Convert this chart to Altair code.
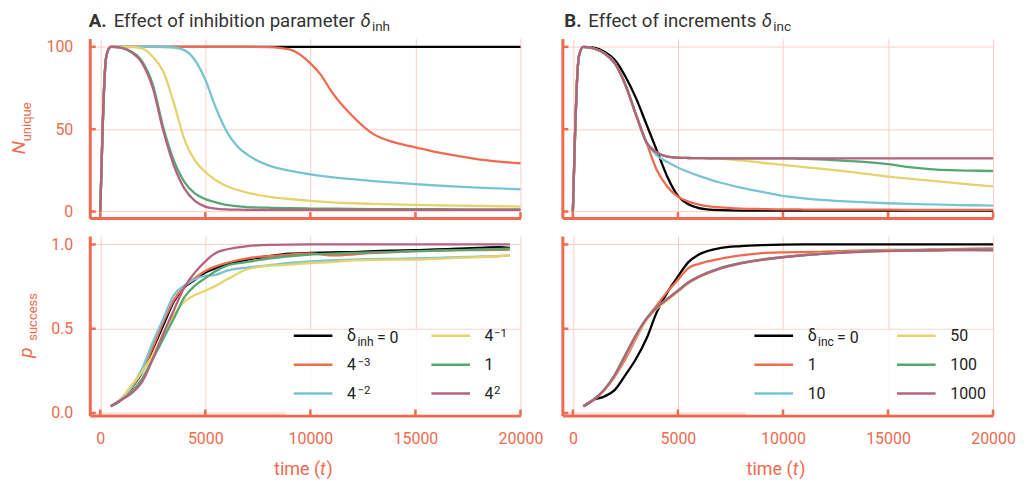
import altair as alt
import pandas as pd

FONT = "Roboto"
AX = "#EE6A50"
GRID = "#F9CEC6"
INK = "#333333"
LEGINK = "#222222"

XTICKS = [0, 5000, 10000, 15000, 20000]
N_TICKS = [0, 50, 100]
P_TICKS = [0.0, 0.5, 1.0]

A_KEYS = ["0", "4⁻³", "4⁻²", "4⁻¹", "1", "4²"]
B_KEYS = ["0", "1", "10", "50", "100", "1000"]
COLORS = ["#000000", "#EE6A50", "#77C5D3", "#E6D36E", "#55A773", "#B5627F"]

T_TOP = [0, 100, 200, 300, 500, 1000, 1500, 2000, 2500, 3000, 3500, 4000, 4500, 5000, 5500, 6000,
         6500, 7000, 8000, 9000, 10000, 10500, 11000, 12000, 13000, 14000, 15000, 16000, 17000,
         18000, 19000, 20000]

N_A_0 = [0, 45, 80, 95, 100, 100, 100, 100, 100, 100, 100, 100, 100, 100, 100, 100, 100, 100, 100, 100,
         100, 100, 100, 100, 100, 100, 100, 100, 100, 100, 100, 100]
N_A_1 = [0, 45, 80, 95, 100, 100, 100, 100, 100, 100, 100, 100, 100, 100, 100, 100, 100, 100, 99.8, 98.4,
         90, 83, 73, 58, 47, 42, 39, 36, 33.8, 31.7, 30.3, 29.3]
N_A_2 = [0, 45, 80, 95, 100, 100, 100, 100, 100, 99.9, 99.5, 98, 92, 80, 63, 49, 40, 34.5, 28, 24.8,
         22.6, 21.7, 20.9, 19.6, 18.5, 17.5, 16.6, 15.8, 15.1, 14.5, 14, 13.5]
N_A_3 = [0, 45, 80, 95, 100, 100, 99.9, 99, 94, 85, 66, 44, 31, 24, 19, 15.5, 13.2, 11.5, 9, 7.6,
         6.5, 6, 5.6, 5, 4.6, 4.3, 4, 3.8, 3.6, 3.4, 3.2, 3]
N_A_4 = [0, 45, 80, 95, 100, 99.5, 97, 91, 77, 51, 31, 18, 11, 7.5, 5.5, 4, 3.2, 2.7, 2.3, 2,
         1.8, 1.7, 1.7, 1.6, 1.5, 1.5, 1.4, 1.4, 1.3, 1.3, 1.3, 1.3]
N_A_5 = [0, 45, 80, 95, 100, 99.3, 96.5, 90, 75, 49, 28, 14, 6.5, 3, 1.8, 1.3, 1.1, 1, 1, 1,
         1, 1, 1, 1, 1, 1, 1, 1, 1, 1, 1, 1]

N_B_0 = [0, 45, 80, 95, 100, 99.5, 97, 92, 82, 69, 53, 37, 21, 9.5, 4.4, 2, 1.2, 0.8, 0.5, 0.5,
         0.5, 0.5, 0.5, 0.5, 0.5, 0.5, 0.5, 0.5, 0.5, 0.5, 0.5, 0.5]
N_B_1 = [0, 45, 80, 95, 100, 99, 96, 90, 77, 59, 42, 25, 15, 9, 6, 4.2, 3.1, 2.5, 1.8, 1.5,
         1.3, 1.3, 1.2, 1.2, 1.1, 1.1, 1.1, 1.0, 1.0, 1.0, 1.0, 1.0]
N_B_2 = [0, 45, 80, 95, 100, 99, 96, 90, 77, 59, 42, 34, 30, 26.7, 24, 21.6, 19.5, 17.6, 14.5, 11.9,
         9.5, 8.7, 8, 6.9, 6.1, 5.5, 5, 4.6, 4.3, 4, 3.8, 3.6]
N_B_3 = [0, 45, 80, 95, 100, 99, 96, 90, 77, 59, 42, 35.8, 33.3, 32.7, 32.5, 32.4, 32.3, 32.2, 31, 29.6,
         28.3, 27.7, 27, 25.7, 24.4, 22.8, 21.2, 19.9, 18.7, 17.5, 16.3, 15.2]
N_B_4 = [0, 45, 80, 95, 100, 99, 96, 90, 77, 59, 42, 35.8, 33.3, 32.7, 32.5, 32.4, 32.3, 32.3, 32.3, 32.3,
         32.3, 32.2, 32, 31.5, 30.8, 30, 28.8, 27, 25.8, 25.1, 24.8, 24.6]
N_B_5 = [0, 45, 80, 95, 100, 99, 96, 90, 77, 59, 42, 35.8, 33.3, 32.7, 32.5, 32.4, 32.3, 32.3, 32.3, 32.3,
         32.3, 32.3, 32.3, 32.3, 32.3, 32.3, 32.3, 32.3, 32.3, 32.3, 32.3, 32.3]

T_BOT_A = [500, 1000, 1500, 2000, 2500, 3000, 3500, 4000, 4500, 5000, 5500, 6000, 7000, 8000, 9000,
           10000, 11000, 12000, 13000, 14000, 15000, 16000, 17000, 18000, 19000, 19500]
T_BOT_B = [500, 1000, 1500, 2000, 2500, 3000, 3500, 4000, 4500, 5000, 5500, 6000, 7000, 8000, 9000,
           10000, 11000, 12000, 13000, 14000, 15000, 16000, 17000, 18000, 19000, 20000]

P_A_0 = [0.04, 0.078, 0.15, 0.245, 0.38, 0.52, 0.66, 0.745, 0.79, 0.833, 0.86, 0.88, 0.91, 0.93, 0.945,
         0.95, 0.953, 0.955, 0.96, 0.963, 0.966, 0.97, 0.975, 0.98, 0.984, 0.98]
P_A_1 = [0.04, 0.08, 0.15, 0.25, 0.39, 0.54, 0.67, 0.75, 0.80, 0.843, 0.87, 0.89, 0.918, 0.93, 0.94,
         0.947, 0.935, 0.94, 0.95, 0.955, 0.96, 0.963, 0.966, 0.967, 0.968, 0.97]
P_A_2 = [0.04, 0.085, 0.157, 0.265, 0.42, 0.56, 0.70, 0.755, 0.794, 0.814, 0.82, 0.843, 0.863, 0.876, 0.89,
         0.90, 0.905, 0.91, 0.913, 0.915, 0.918, 0.92, 0.925, 0.928, 0.932, 0.935]
P_A_3 = [0.04, 0.084, 0.167, 0.245, 0.343, 0.47, 0.58, 0.66, 0.70, 0.725, 0.755, 0.79, 0.853, 0.873, 0.88,
         0.89, 0.895, 0.906, 0.908, 0.91, 0.91, 0.915, 0.92, 0.925, 0.93, 0.935]
P_A_4 = [0.04, 0.078, 0.127, 0.206, 0.32, 0.44, 0.56, 0.686, 0.755, 0.80, 0.843, 0.873, 0.896, 0.916, 0.93,
         0.94, 0.945, 0.95, 0.953, 0.956, 0.96, 0.963, 0.966, 0.97, 0.973, 0.975]
P_A_5 = [0.04, 0.078, 0.118, 0.186, 0.32, 0.47, 0.61, 0.745, 0.833, 0.90, 0.95, 0.97, 0.99, 0.998, 0.999,
         1.0, 1.0, 1.0, 1.0, 1.0, 1.0, 1.0, 1.0, 1.0, 1.0, 1.0]

P_B_0 = [0.04, 0.078, 0.098, 0.137, 0.225, 0.32, 0.44, 0.60, 0.716, 0.81, 0.895, 0.94, 0.978, 0.99, 0.996,
         0.999, 1.0, 1.0, 1.0, 1.0, 1.0, 1.0, 1.0, 1.0, 1.0, 1.0]
P_B_1 = [0.04, 0.08, 0.137, 0.216, 0.32, 0.44, 0.555, 0.64, 0.72, 0.79, 0.86, 0.885, 0.915, 0.935, 0.948,
         0.953, 0.955, 0.957, 0.962, 0.965, 0.968, 0.968, 0.97, 0.972, 0.975, 0.976]
P_B_2 = [0.04, 0.08, 0.138, 0.225, 0.343, 0.46, 0.56, 0.627, 0.676, 0.728, 0.775, 0.81, 0.858, 0.89, 0.912,
         0.925, 0.937, 0.947, 0.953, 0.958, 0.962, 0.963, 0.965, 0.966, 0.967, 0.967]
P_B_3 = [0.04, 0.078, 0.135, 0.22, 0.335, 0.45, 0.55, 0.62, 0.67, 0.72, 0.77, 0.805, 0.855, 0.888, 0.91,
         0.924, 0.938, 0.948, 0.955, 0.96, 0.963, 0.964, 0.966, 0.968, 0.968, 0.968]
P_B_4 = [0.04, 0.08, 0.14, 0.228, 0.345, 0.462, 0.56, 0.628, 0.678, 0.726, 0.776, 0.81, 0.86, 0.89, 0.91,
         0.925, 0.937, 0.946, 0.954, 0.96, 0.962, 0.965, 0.966, 0.968, 0.97, 0.972]
P_B_5 = [0.04, 0.08, 0.138, 0.224, 0.342, 0.458, 0.558, 0.626, 0.676, 0.724, 0.774, 0.808, 0.857, 0.888, 0.909,
         0.924, 0.936, 0.946, 0.952, 0.958, 0.961, 0.963, 0.964, 0.966, 0.967, 0.965]

W, H = 432, 180


def long(times, keys, series):
    rows = []
    for i, (k, vals) in enumerate(zip(keys, series)):
        for t, v in zip(times, vals):
            rows.append({"t": t, "v": v, "s": k, "o": i})
    return pd.DataFrame(rows)


ONE = pd.DataFrame({"dummy": [0]})


def txt(s, x, y, size, color, weight="normal", style="normal", angle=0, align="left"):
    return alt.Chart(ONE).mark_text(
        font=FONT, fontSize=size, color=color, fontWeight=weight, fontStyle=style,
        angle=angle, align=align, baseline="alphabetic",
    ).encode(x=alt.value(x), y=alt.value(y), text=alt.value(s))


def legend_box(x0):
    return alt.Chart(ONE).mark_rect(color="white", opacity=0.8).encode(
        x=alt.value(x0), x2=alt.value(W - 2), y=alt.value(94), y2=alt.value(H - 1))


def panel(df, keys, ydom, yticks, yfmt, xlabels, ylabels, legend, texts):
    xenc = alt.X("t:Q", scale=alt.Scale(domain=[-500, 20000], nice=False, zero=False),
                 axis=alt.Axis(values=XTICKS, grid=True, gridColor=GRID, gridWidth=1,
                               domainColor=AX, domainWidth=3, ticks=False, labels=xlabels,
                               labelColor=AX, labelFont=FONT, labelFontSize=16, labelPadding=15,
                               labelFlush=False, format="d", title=None))
    yenc = alt.Y("v:Q", scale=alt.Scale(domain=ydom, nice=False, zero=False),
                 axis=alt.Axis(values=yticks, grid=True, gridColor=GRID, gridWidth=1,
                               domainColor=AX, domainWidth=3, ticks=False, labels=ylabels,
                               labelColor=AX, labelFont=FONT, labelFontSize=16, labelPadding=17,
                               labelFlush=False, format=yfmt, title=None))
    if legend is not None:
        leg = alt.Legend(orient="none", legendX=legend[0], legendY=legend[1], columns=2,
                         symbolType="stroke", symbolStrokeWidth=2.5, symbolSize=1500,
                         labelFont=FONT, labelFontSize=16, labelColor=LEGINK,
                         labelOffset=13, padding=8, rowPadding=-1.5, columnPadding=legend[3],
                         title=None, labelExpr=legend[4])
        cenc = alt.Color("s:N", scale=alt.Scale(domain=keys, range=COLORS), legend=leg)
    else:
        cenc = alt.Color("s:N", scale=alt.Scale(domain=keys, range=COLORS), legend=None)
    lines = alt.Chart(df).mark_line(strokeWidth=2.3, interpolate="monotone").encode(
        x=xenc, y=yenc, color=cenc, detail="o:N")
    xt = alt.Chart(pd.DataFrame({"t": XTICKS})).mark_rule(color=AX, strokeWidth=2.5).encode(
        x=xenc, y=alt.value(H), y2=alt.value(H - 6))
    yt = alt.Chart(pd.DataFrame({"v": yticks})).mark_rule(color=AX, strokeWidth=2.5).encode(
        y=yenc, x=alt.value(0), x2=alt.value(6))
    layers = [lines]
    if legend is not None:
        layers.append(legend_box(legend[2]))
    layers += [xt, yt]
    return alt.layer(*layers, *texts).properties(width=W, height=H)


def time_title():
    return [
        txt("time (", 231, 240, 18, AX, align="right"),
        txt("t", 231, 240, 18, AX, style="italic"),
        txt(")", 237.5, 240, 18, AX),
    ]


# legend: labels show the base "4"; the exponents are set as small raised text
EXP_A = "datum.label == '0' ? 'δ' : substring(datum.label, 0, 1)"
EXP_B = "datum.label == '0' ? 'δ' : datum.label"
SUP = 11.5

TL = panel(long(T_TOP, A_KEYS, [N_A_0, N_A_1, N_A_2, N_A_3, N_A_4, N_A_5]), A_KEYS, [-4, 105],
           N_TICKS, "d", False, True, None, [
               txt("A.", -1, -12, 18.7, INK, weight="bold"),
               txt("Effect of inhibition parameter", 24, -12, 18.7, INK),
               txt("δ", 271.5, -12, 18.7, INK, style="italic"),
               txt("inh", 283, -8, 13.5, INK),
               txt("N", -65, 116, 19, AX, style="italic", angle=270),
               txt("unique", -59, 103, 13, AX, angle=270),
           ])
TR = panel(long(T_TOP, B_KEYS, [N_B_0, N_B_1, N_B_2, N_B_3, N_B_4, N_B_5]), B_KEYS, [-4, 105],
           N_TICKS, "d", False, False, None, [
               txt("B.", 2, -12, 18.7, INK, weight="bold"),
               txt("Effect of increments", 26, -12, 18.7, INK),
               txt("δ", 200, -12, 18.7, INK, style="italic"),
               txt("inc", 211.5, -8, 13.5, INK),
           ])
BL = panel(long(T_BOT_A, A_KEYS, [P_A_0, P_A_1, P_A_2, P_A_3, P_A_4, P_A_5]), A_KEYS, [-0.015, 1.05],
           P_TICKS, ".1f", True, True, (195, 71, 196, 69, EXP_A), [
               txt("inh", 268.5, 110, 12, LEGINK),
               txt("= 0", 288, 107, 16, LEGINK),
               txt("−3", 268.5, 130, SUP, LEGINK),
               txt("−2", 268.5, 158, SUP, LEGINK),
               txt("−1", 405.5, 101, SUP, LEGINK),
               txt("2", 405.5, 158, SUP, LEGINK),
               txt("p", -58, 122, 19, AX, style="italic", angle=270),
               txt("success", -53, 105, 13, AX, angle=270),
           ] + time_title())
BR = panel(long(T_BOT_B, B_KEYS, [P_B_0, P_B_1, P_B_2, P_B_3, P_B_4, P_B_5]), B_KEYS, [-0.015, 1.05],
           P_TICKS, ".1f", True, False, (183, 71, 184, 66, EXP_B), [
               txt("inc", 256.5, 110, 12, LEGINK),
               txt("= 0", 275.5, 107, 16, LEGINK),
           ] + time_title())

chart = alt.concat(TL, TR, BL, BR, columns=2, spacing={"row": 18, "column": 42}, bounds="flush").resolve_scale(
    color="independent", x="independent", y="independent"
).properties(
    padding={"left": 2, "top": 3, "right": 5, "bottom": 5}, background="white"
).configure_view(strokeWidth=0)

chart.save("out.html", embed_options={"renderer": "svg", "actions": False})
